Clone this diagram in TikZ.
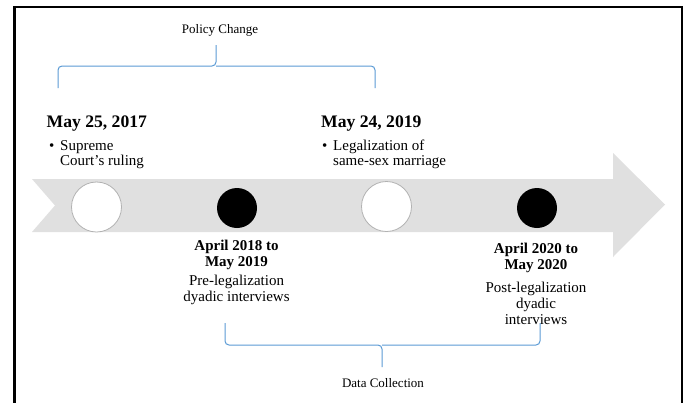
\documentclass[tikz,border=0pt]{standalone}
\usepackage{fontspec}
\setmainfont{Liberation Serif}
\begin{document}
\begin{tikzpicture}[x=1pt,y=-1pt,
  bandcol/.style={fill=black!12},
  wdot/.style={circle,draw=black!30,line width=0.8pt,fill=white,minimum size=50pt,inner sep=0pt},
  bdot/.style={circle,fill=black,minimum size=40pt,inner sep=0pt},
  datehead/.style={anchor=base west,inner sep=0pt,font=\fontsize{17.6}{20}\selectfont\bfseries},
  bodytxt/.style={anchor=base west,inner sep=0pt,font=\fontsize{15}{15}\selectfont},
  bolddate/.style={anchor=base,inner sep=0pt,font=\fontsize{15}{16}\selectfont\bfseries},
  ctrtxt/.style={anchor=base,inner sep=0pt,font=\fontsize{15}{16}\selectfont},
  bracelabel/.style={anchor=base,inner sep=0pt,font=\fontsize{13}{14}\selectfont},
  bracecol/.style={draw={rgb,255:red,91;green,155;blue,213},line width=1pt,rounded corners=4pt}
]
\useasboundingbox (0,0) rectangle (683,402);
\fill[white] (0,0) rectangle (683,402);
% frame
\draw[line width=2.5pt] (14.5,403) -- (14.5,7) -- (682,7) -- (682,403);
% timeline arrow
\fill[bandcol] (32,179) -- (613,179) -- (613,153) -- (665,204.5) -- (613,257) -- (613,232) -- (32,232) -- (55,205.5) -- cycle;
% circles
\node[wdot] (c1) at (96.5,207) {};
\node[bdot] (c2) at (237,208) {};
\node[wdot] (c3) at (386.5,206.5) {};
\node[bdot] (c4) at (537,208) {};
% top texts
\node[datehead] (d1) at (46.5,127) {May 25, 2017};
\node[bodytxt] (b1) at (49,150) {\textbullet};
\node[bodytxt] (s1) at (60,150) {Supreme};
\node[bodytxt] (s1b) at (60,165) {Court’s ruling};
\node[datehead] (d2) at (321,127) {May 24, 2019};
\node[bodytxt] (b2) at (322,150) {\textbullet};
\node[bodytxt] (s2) at (333,150) {Legalization of};
\node[bodytxt] (s2b) at (333,165) {same-sex marriage};
% bottom texts
\node[bolddate] (e1) at (236.5,250) {April 2018 to};
\node[bolddate] (e1b) at (236.5,266) {May 2019};
\node[ctrtxt] (p1) at (236.5,285) {Pre-legalization};
\node[ctrtxt] (p1b) at (236.5,301) {dyadic interviews};
\node[bolddate] (e2) at (536,253) {April 2020 to};
\node[bolddate] (e2b) at (536,269) {May 2020};
\node[ctrtxt] (p2) at (536,292) {Post-legalization};
\node[ctrtxt] (p2b) at (536,308) {dyadic};
\node[ctrtxt] (p2c) at (536,324) {interviews};
% brace labels
\node[bracelabel] (pc) at (220,33) {Policy Change};
\node[bracelabel] (dc) at (383,387) {Data Collection};
% upper brace
\coordinate (ua) at (58,88);
\coordinate (ub) at (375,88);
\coordinate (um) at (216,45);
\draw[bracecol] (ua) -- (58,66) -- (216,66) -- (um);
\draw[bracecol] (ub) -- (375,66) -- (216,66);
% lower brace
\coordinate (la) at (225,323);
\coordinate (lb) at (540,323);
\coordinate (lm) at (382,367);
\draw[bracecol] (la) -- (225,345) -- (382,345) -- (lm);
\draw[bracecol] (lb) -- (540,345) -- (382,345);
\end{tikzpicture}
\end{document}
